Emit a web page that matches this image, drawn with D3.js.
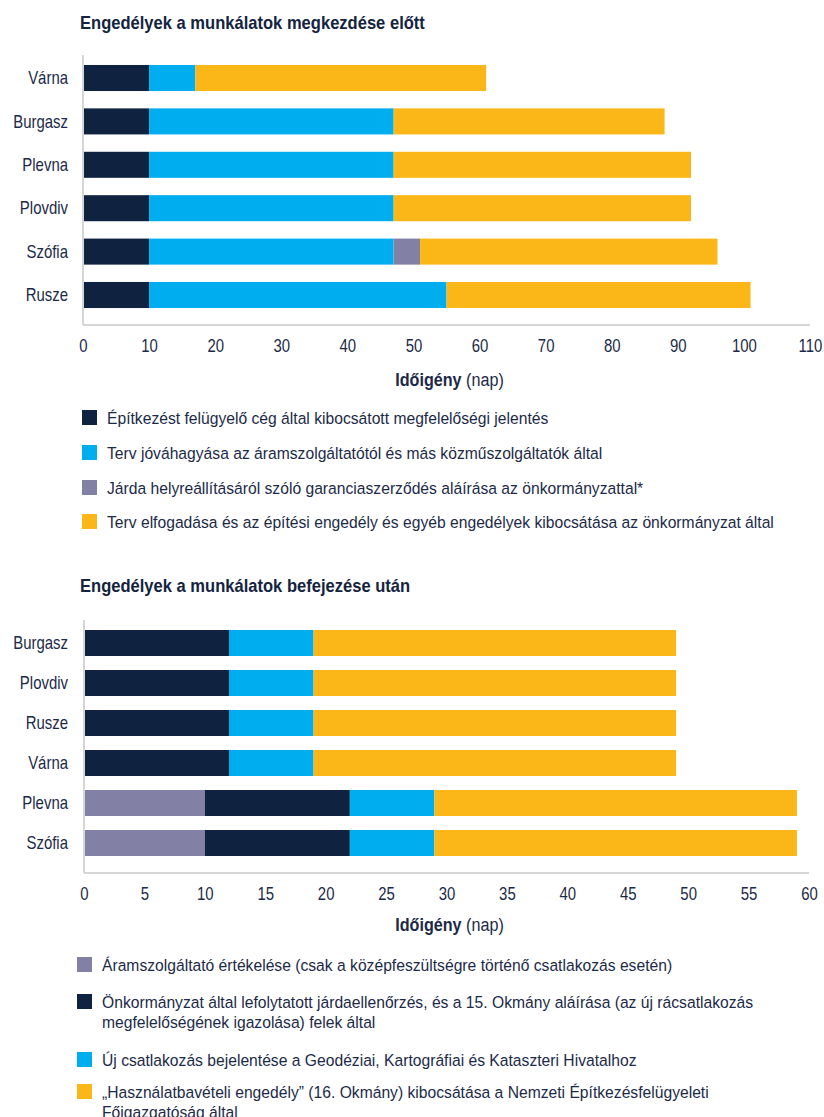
<!DOCTYPE html>
<html>
<head>
<meta charset="utf-8">
<script src="https://cdn.jsdelivr.net/npm/d3@7"></script>
<style>
  html, body { margin: 0; padding: 0; background: #ffffff; }
  svg { display: block; font-family: "Liberation Sans", Arial, sans-serif; }
  .title { font-weight: bold; font-size: 18px; fill: #14243f; }
  .cat { font-size: 18px; fill: #1c2a48; }
  .tick text { font-size: 18px; fill: #1c2a48; }
  .axis-title { font-size: 19px; fill: #1c2a48; }
  .legend text { font-size: 16.5px; fill: #1c2a48; }
</style>
</head>
<body>
<svg id="chart" width="824" height="1117"></svg>
<script>
// ---- Engedélyek a munkálatok megkezdése előtt ----
const beforeCities = ["Várna", "Burgasz", "Plevna", "Plovdiv", "Szófia", "Rusze"];
const beforeSupervisor = [10, 10, 10, 10, 10, 10];
const beforeUtility = [7, 37, 37, 37, 37, 45];
const beforeSidewalk = [0, 0, 0, 0, 4, 0];
const beforeMunicipality = [44, 41, 45, 45, 45, 46];
const beforeTicks = [0, 10, 20, 30, 40, 50, 60, 70, 80, 90, 100, 110];
const beforeLegend = [
  "Építkezést felügyelő cég által kibocsátott megfelelőségi jelentés",
  "Terv jóváhagyása az áramszolgáltatótól és más közműszolgáltatók által",
  "Járda helyreállításáról szóló garanciaszerződés aláírása az önkormányzattal*",
  "Terv elfogadása és az építési engedély és egyéb engedélyek kibocsátása az önkormányzat által"
];

// ---- Engedélyek a munkálatok befejezése után ----
const afterCities = ["Burgasz", "Plovdiv", "Rusze", "Várna", "Plevna", "Szófia"];
const afterGridOperator = [0, 0, 0, 0, 10, 10];
const afterSidewalkCheck = [12, 12, 12, 12, 12, 12];
const afterCadastre = [7, 7, 7, 7, 7, 7];
const afterUsePermit = [30, 30, 30, 30, 30, 30];
const afterTicks = [0, 5, 10, 15, 20, 25, 30, 35, 40, 45, 50, 55, 60];
const afterLegend = [
  ["Áramszolgáltató értékelése (csak a középfeszültségre történő csatlakozás esetén)"],
  ["Önkormányzat által lefolytatott járdaellenőrzés, és a 15. Okmány aláírása (az új rácsatlakozás",
   "megfelelőségének igazolása) felek által"],
  ["Új csatlakozás bejelentése a Geodéziai, Kartográfiai és Kataszteri Hivatalhoz"],
  ["„Használatbavételi engedély” (16. Okmány) kibocsátása a Nemzeti Építkezésfelügyeleti",
   "Főigazgatóság által"]
];

const NAVY = "#0f2240", CYAN = "#00aeef", PURPLE = "#8281a5", YELLOW = "#fbb718";
const AXIS = "#d6d6d6";

// horizontal narrowing of text around its anchor x (condensed face look)
function condense(sel, f) {
  sel.each(function () {
    const x = +this.getAttribute("x") || 0;
    this.setAttribute("transform", `translate(${x * (1 - f)},0) scale(${f},1)`);
  });
}

const svg = d3.select("#chart");

function stackedChart(opt) {
  const g = svg.append("g");
  g.append("text").attr("class", "title")
    .attr("x", 80).attr("y", opt.titleY).text(opt.title)
    .call(condense, 0.92);

  const x = d3.scaleLinear().domain(opt.domain).range(opt.xRange);
  const y = d3.scaleBand().domain(opt.cats).range(opt.yRange)
    .paddingInner(opt.padInner).paddingOuter(opt.padOuter);

  const rows = opt.cats.map((c, i) => {
    const r = { cat: c };
    opt.keys.forEach((k, j) => { r[k] = opt.series[j][i]; });
    return r;
  });
  const stacked = d3.stack().keys(opt.keys)(rows);

  g.selectAll("g.layer").data(stacked).join("g")
    .attr("class", "layer")
    .attr("fill", (d, i) => opt.colors[i])
    .selectAll("rect").data(d => d).join("rect")
    .attr("x", d => x(d[0]))
    .attr("width", d => Math.max(0, x(d[1]) - x(d[0])))
    .attr("y", d => y(d.data.cat))
    .attr("height", y.bandwidth());

  // axis lines
  g.append("line").attr("x1", opt.xRange[0]).attr("x2", opt.xRange[0])
    .attr("y1", opt.vTop).attr("y2", opt.axisY)
    .attr("stroke", AXIS).attr("stroke-width", 2);
  g.append("line").attr("x1", opt.xRange[0]).attr("x2", opt.xRange[1])
    .attr("y1", opt.axisY).attr("y2", opt.axisY)
    .attr("stroke", AXIS).attr("stroke-width", 2);

  // category labels
  g.selectAll("text.cat").data(opt.cats).join("text")
    .attr("class", "cat")
    .attr("x", 68)
    .attr("y", d => y(d) + y.bandwidth() / 2)
    .attr("dy", "0.35em")
    .attr("text-anchor", "end")
    .text(d => d)
    .call(condense, 0.83);

  // value axis
  const ax = g.append("g")
    .attr("transform", `translate(0,${opt.axisY})`)
    .call(d3.axisBottom(x).tickValues(opt.ticks).tickSize(0).tickPadding(opt.tickPad).tickFormat(d3.format("d")));
  ax.select(".domain").remove();
  ax.selectAll("text").attr("font-family", null).attr("font-size", null).attr("fill", null)
    .call(condense, 0.83);

  const t = g.append("text").attr("class", "axis-title")
    .attr("x", (opt.xRange[0] + opt.xRange[1]) / 2 + 3)
    .attr("y", opt.axisTitleY).attr("text-anchor", "middle");
  t.append("tspan").attr("font-weight", "bold").text("Időigény");
  t.append("tspan").text(" (nap)");
  t.call(condense, 0.85);

  // legend
  const lg = g.append("g").attr("class", "legend");
  opt.legend.forEach((item, i) => {
    const top = opt.legendTops[i];
    lg.append("rect").attr("x", opt.legendX).attr("y", top)
      .attr("width", 15).attr("height", 15).attr("fill", opt.legendColors[i]);
    const lines = Array.isArray(item) ? item : [item];
    lines.forEach((ln, k) => {
      lg.append("text").attr("x", opt.legendX + 25)
        .attr("y", top + 14 + k * 20).text(ln)
        .call(condense, 0.95);
    });
  });
}

stackedChart({
  title: "Engedélyek a munkálatok megkezdése előtt",
  titleY: 29,
  cats: beforeCities,
  keys: ["supervisor", "utility", "sidewalk", "municipality"],
  series: [beforeSupervisor, beforeUtility, beforeSidewalk, beforeMunicipality],
  colors: [NAVY, CYAN, PURPLE, YELLOW],
  domain: [0, 110], xRange: [83, 810],
  yRange: [56.3, 316.7], padInner: 0.4, padOuter: 0.2,
  vTop: 55, axisY: 325, ticks: beforeTicks, tickPad: 14, axisTitleY: 386,
  legend: beforeLegend, legendColors: [NAVY, CYAN, PURPLE, YELLOW],
  legendX: 82, legendTops: [410, 445, 480, 514]
});

stackedChart({
  title: "Engedélyek a munkálatok befejezése után",
  titleY: 592,
  cats: afterCities,
  keys: ["grid", "sidewalkCheck", "cadastre", "usePermit"],
  series: [afterGridOperator, afterSidewalkCheck, afterCadastre, afterUsePermit],
  colors: [PURPLE, NAVY, CYAN, YELLOW],
  domain: [0, 60], xRange: [84, 809],
  yRange: [620, 866], padInner: 0.35, padOuter: 0.25,
  vTop: 620, axisY: 873, ticks: afterTicks, tickPad: 14, axisTitleY: 931,
  legend: afterLegend, legendColors: [PURPLE, NAVY, CYAN, YELLOW],
  legendX: 77, legendTops: [957, 994, 1052, 1084]
});
</script>
</body>
</html>
